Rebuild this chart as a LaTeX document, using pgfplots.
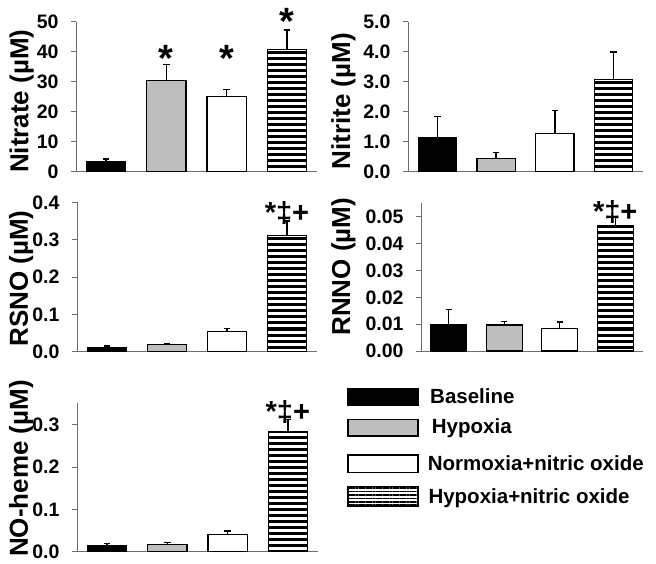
\documentclass[border=0pt]{standalone}
\usepackage{fontspec}
\setmainfont{Liberation Sans}
\usepackage{pgfplots}
\pgfplotsset{compat=1.18}
\usetikzlibrary{patterns.meta}
\definecolor{bargray}{RGB}{190,190,190}
\definecolor{axgray}{RGB}{110,110,110}

\pgfplotsset{
 panel/.style={scale only axis, ybar, bar width=0.65, xmin=-0.5, xmax=3.5, ymin=0,
   axis x line*=bottom, axis y line*=left, xtick=\empty, tick align=outside,
   major tick length=5pt, ytick style={axgray, line width=0.8pt},
   axis line style={axgray, line width=0.8pt},
   /pgf/number format/assume math mode=true,
   tick label style={font=\bfseries\fontsize{19.5}{21}\selectfont},
   yticklabel style={xshift=-9pt},
   scaled y ticks=false, clip=false, anchor=south west},
 zf/.style={yticklabel style={/pgf/number format/.cd, fixed, fixed zerofill, precision=#1}},
 lab/.style 2 args={ylabel style={font=\bfseries\fontsize{26}{28}\selectfont, at={(axis description cs:#1,#2)}, anchor=center}},
 err/.style={error bars/.cd, y dir=plus, y explicit,
   error bar style={black, line width=1.3pt},
   error mark options={black, line width=1.3pt, mark size=3.2pt, rotate=90}},
 bBase/.style={bar shift=0pt, fill=black, draw=black, line width=1.2pt, err},
 bHyp/.style={bar shift=0pt, fill=bargray, draw=black, line width=1.2pt, err},
 bNorm/.style={bar shift=0pt, fill=white, draw=black, line width=1.2pt, err},
 bHNO/.style={bar shift=0pt, draw=black, line width=1.2pt, pattern={Lines[angle=0,distance=6pt,line width=3pt]}, pattern color=black, err},
}
\newcommand{\sigfont}[1]{\bfseries\fontsize{#1}{#1}\selectfont}

\begin{document}
\begin{tikzpicture}
\path[use as bounding box] (0pt,0pt) rectangle (656pt,563pt);

% Nitrate
\begin{axis}[panel, at={(76pt,391.3pt)}, width=241pt, height=150pt, ymax=50,
  ytick={0,10,20,30,40,50}, ylabel={Nitrate (µM)}, lab={-0.225}{0.47}]
\addplot[bBase] coordinates {(0,3.3) +- (0,0.9)};
\addplot[bHyp] coordinates {(1,30.5) +- (0,5.3)};
\addplot[bNorm] coordinates {(2,25.0) +- (0,2.5)};
\addplot[bHNO] coordinates {(3,40.8) +- (0,6.4)};
\node[anchor=north, inner sep=0pt, font=\sigfont{38}] at (axis cs:1,42.2) {*};
\node[anchor=north, inner sep=0pt, font=\sigfont{38}] at (axis cs:2,42.2) {*};
\node[anchor=north, inner sep=0pt, font=\sigfont{38}] at (axis cs:3,54.4) {*};
\end{axis}

% Nitrite
\begin{axis}[panel, zf=1, at={(408pt,391.3pt)}, width=235pt, height=150pt, ymax=5,
  ytick={0,1,2,3,4,5}, ylabel={Nitrite (µM)}, lab={-0.275}{0.47}]
\addplot[bBase] coordinates {(0,1.13) +- (0,0.70)};
\addplot[bHyp] coordinates {(1,0.43) +- (0,0.20)};
\addplot[bNorm] coordinates {(2,1.26) +- (0,0.77)};
\addplot[bHNO] coordinates {(3,3.08) +- (0,0.91)};
\end{axis}

% RSNO
\begin{axis}[panel, zf=1, at={(77pt,211.3pt)}, width=240pt, height=149.4pt, ymax=0.4,
  ytick={0,0.1,0.2,0.3,0.4}, ylabel={RSNO (µM)}, lab={-0.233}{0.49}]
\addplot[bBase] coordinates {(0,0.0107) +- (0,0.0043)};
\addplot[bHyp] coordinates {(1,0.019) +- (0,0.002)};
\addplot[bNorm] coordinates {(2,0.054) +- (0,0.008)};
\addplot[bHNO] coordinates {(3,0.312) +- (0,0.038)};
\node[anchor=north, inner sep=0pt, font=\sigfont{29}] at (axis cs:3,0.403) {*‡+};
\end{axis}

% RNNO
\begin{axis}[panel, zf=2, at={(421pt,212pt)}, width=222pt, height=147.7pt, ymax=0.055,
  ytick={0,0.01,0.02,0.03,0.04,0.05}, ylabel={RNNO (µM)}, lab={-0.35}{0.57}]
\addplot[bBase] coordinates {(0,0.0100) +- (0,0.0054)};
\addplot[bHyp] coordinates {(1,0.0097) +- (0,0.0013)};
\addplot[bNorm] coordinates {(2,0.0083) +- (0,0.0025)};
\addplot[bHNO] coordinates {(3,0.0466) +- (0,0.0036)};
\node[anchor=north, inner sep=0pt, font=\sigfont{29}] at (axis cs:3,0.0562) {*‡+};
\end{axis}

% NO-heme
\begin{axis}[panel, zf=1, at={(77pt,11.3pt)}, width=241pt, height=148.4pt, ymax=0.35,
  ytick={0,0.1,0.2,0.3}, ylabel={NO-heme (µM)}, lab={-0.232}{0.56}]
\addplot[bBase] coordinates {(0,0.0134) +- (0,0.0056)};
\addplot[bHyp] coordinates {(1,0.0174) +- (0,0.0046)};
\addplot[bNorm] coordinates {(2,0.040) +- (0,0.009)};
\addplot[bHNO] coordinates {(3,0.2835) +- (0,0.0285)};
\node[anchor=north, inner sep=0pt, font=\sigfont{29}] at (axis cs:3,0.356) {*‡+};
\end{axis}

% legend
\draw[fill=black, line width=1.2pt] (348pt,158pt) rectangle (418pt,174.7pt);
\draw[fill=bargray, line width=1.2pt] (348pt,127pt) rectangle (418pt,143.7pt);
\draw[fill=white, line width=1.2pt] (348pt,90.3pt) rectangle (418pt,108pt);
\draw[line width=1.2pt, pattern={Lines[angle=0,distance=3.4pt,line width=1.6pt]}, pattern color=black] (348pt,57pt) rectangle (418pt,76.3pt);
\begin{scope}[every node/.style={anchor=base west, inner sep=0pt, font=\bfseries\fontsize{20.5}{22}\selectfont}]
\node at (430pt,159.7pt) {Baseline};
\node at (431.7pt,129.7pt) {Hypoxia};
\node at (427.7pt,93pt) {Normoxia+nitric oxide};
\node at (428.3pt,59.7pt) {Hypoxia+nitric oxide};
\end{scope}
\end{tikzpicture}
\end{document}
